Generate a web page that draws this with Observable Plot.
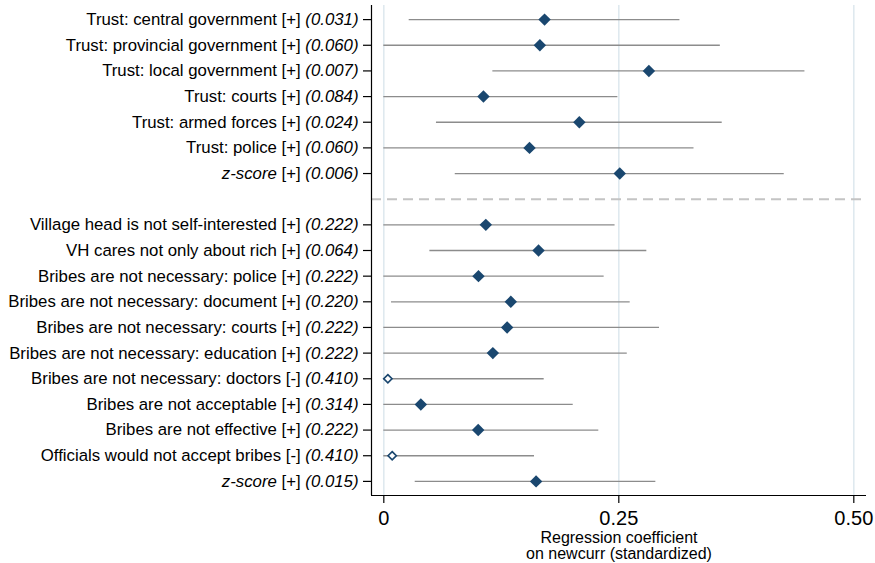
<!DOCTYPE html>
<html><head><meta charset="utf-8">
<script src="https://cdn.jsdelivr.net/npm/d3@7"></script>
<script src="https://cdn.jsdelivr.net/npm/@observablehq/plot@0.6"></script>
<style>body{margin:0;background:#fff;} svg{display:block}</style>
</head><body><div id="chart"></div><script>
// ---- Data ----
const section1Labels = ["Trust: central government","Trust: provincial government","Trust: local government","Trust: courts","Trust: armed forces","Trust: police","z-score"];
const section1Signs = ["+","+","+","+","+","+","+"];
const section1P = ["0.031","0.060","0.007","0.084","0.024","0.060","0.006"];
const section1Coef = [0.171, 0.166, 0.282, 0.106, 0.208, 0.155, 0.251];
const section1Lo = [0.027, 0.0, 0.116, 0.0, 0.056, 0.0, 0.076];
const section1Hi = [0.315, 0.358, 0.448, 0.249, 0.360, 0.330, 0.426];

const section2Labels = ["Village head is not self-interested","VH cares not only about rich","Bribes are not necessary: police","Bribes are not necessary: document","Bribes are not necessary: courts","Bribes are not necessary: education","Bribes are not necessary: doctors","Bribes are not acceptable","Bribes are not effective","Officials would not accept bribes","z-score"];
const section2Signs = ["+","+","+","+","+","+","-","+","+","-","+"];
const section2P = ["0.222","0.064","0.222","0.220","0.222","0.222","0.410","0.314","0.222","0.410","0.015"];
const section2Coef = [0.1085, 0.1646, 0.1007, 0.1351, 0.1312, 0.116, 0.0043, 0.0394, 0.1004, 0.0089, 0.162];
const section2Lo = [0.0, 0.049, 0.0, 0.0082, 0.0, 0.0, 0.0, 0.0, 0.0, 0.0, 0.0334];
const section2Hi = [0.246, 0.2798, 0.2344, 0.2621, 0.2933, 0.259, 0.1706, 0.2015, 0.2287, 0.1603, 0.2894];

const xTicks = [0, 0.25, 0.5];
const xTickLabels = ["0", "0.25", "0.50"];
const axisTitle = "Regression coefficient\non newcurr (standardized)";

// ---- Build table ----
const rows = [];
section1Labels.forEach((l, i) => rows.push({label: l, sign: section1Signs[i], p: section1P[i], coef: section1Coef[i], lo: section1Lo[i], hi: section1Hi[i], pos: i}));
const sepPos = section1Labels.length;
section2Labels.forEach((l, i) => rows.push({label: l, sign: section2Signs[i], p: section2P[i], coef: section2Coef[i], lo: section2Lo[i], hi: section2Hi[i], pos: sepPos + 1 + i}));
const fullLabel = d => `${d.label} [${d.sign}] (${d.p})`;
const labelByPos = new Map(rows.map(d => [d.pos, fullLabel(d)]));

const xDomain = [-0.0131, 0.5135];
const yDomain = [-0.55, rows[rows.length - 1].pos + 0.55];

const diamond = d3.symbolDiamond2 || {draw(ctx, size){const r = Math.sqrt(size) * 0.62625; ctx.moveTo(0,-r); ctx.lineTo(r,0); ctx.lineTo(0,r); ctx.lineTo(-r,0); ctx.closePath();}};
const navy = "#1a476f";

const chart = Plot.plot({
  width: 875, height: 563,
  marginLeft: 371, marginRight: 9, marginTop: 5, marginBottom: 68,
  style: {fontFamily: "'Liberation Sans', Arial, Helvetica, sans-serif", fontSize: "16.8px", color: "#000", background: "#fff"},
  x: {domain: xDomain},
  y: {domain: yDomain, reverse: true},
  marks: [
    Plot.gridX(xTicks, {stroke: "#dde8ee", strokeOpacity: 1, strokeWidth: 1.5}),
    Plot.ruleY([sepPos], {stroke: "#c4c4c4", strokeWidth: 2, strokeDasharray: "10,6"}),
    Plot.ruleY(rows, {y: "pos", x1: "lo", x2: "hi", stroke: "#8c8c8c", strokeWidth: 1.3}),
    Plot.dot(rows.filter(d => d.sign === "+"), {x: "coef", y: "pos", symbol: diamond, r: 5.6, fill: navy, stroke: "none"}),
    Plot.dot(rows.filter(d => d.sign === "-"), {x: "coef", y: "pos", symbol: diamond, r: 3.7, fill: "#fff", stroke: navy, strokeWidth: 1.7}),
    Plot.ruleX([xDomain[0]], {stroke: "#000", strokeWidth: 1.2}),
    Plot.ruleY([yDomain[1]], {stroke: "#000", strokeWidth: 1.2}),
    Plot.axisY({ticks: rows.map(d => d.pos), tickFormat: p => labelByPos.get(p), tickSize: 8, tickPadding: 5, stroke: "#000", strokeWidth: 1.2, fill: "#000", fontSize: 16.8, label: null}),
    Plot.axisX({ticks: xTicks, tickFormat: v => xTickLabels[xTicks.indexOf(v)], tickSize: 8, tickPadding: 7, stroke: "#000", strokeWidth: 1.2, fill: "#000", fontSize: 20, label: null}),
    Plot.text([axisTitle], {text: d => d, frameAnchor: "bottom", lineAnchor: "top", dy: 36, lineHeight: 1.0, fontSize: 16, fill: "#000"})
  ]
});
document.getElementById("chart").appendChild(chart);

// Mixed italic styling for the y tick labels
const labelSet = new Set(labelByPos.values());
d3.select(chart).selectAll("text").each(function() {
  const t = this.textContent;
  if (!labelSet.has(t)) return;
  const m = t.match(/^(z-score)?(.*?)(\(\d\.\d+\))$/);
  if (!m) return;
  const el = d3.select(this);
  el.text(null).style("white-space", "pre");
  if (m[1]) el.append("tspan").attr("font-style", "italic").text(m[1]);
  el.append("tspan").text(m[2]);
  el.append("tspan").attr("font-style", "italic").text(m[3]);
});
</script></body></html>
